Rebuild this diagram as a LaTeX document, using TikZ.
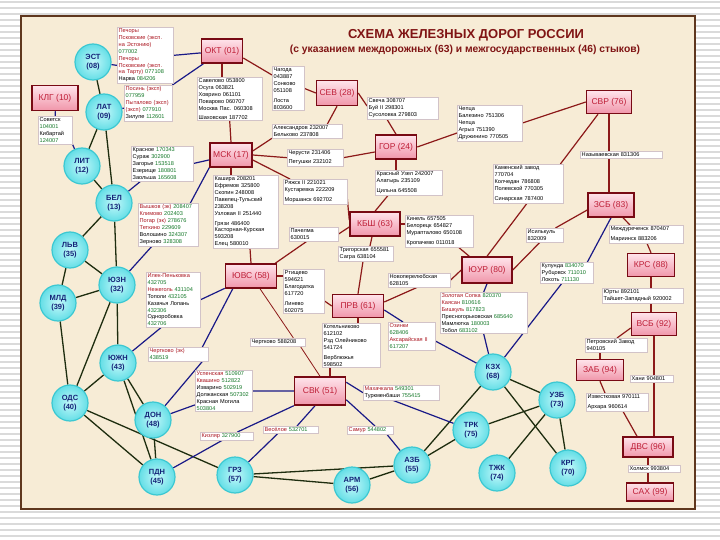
\documentclass[tikz,border=0pt]{standalone}
\usepackage{fontspec}
\setmainfont{Liberation Sans}
\pgfdeclarelayer{bg}
\pgfsetlayers{bg,main}
\definecolor{beige}{RGB}{247,236,214}
\definecolor{framec}{RGB}{95,55,30}
\definecolor{stripe}{RGB}{218,218,218}
\definecolor{titlec}{RGB}{128,20,20}
\definecolor{rboxd}{RGB}{120,10,20}
\definecolor{rboxt}{RGB}{190,30,55}
\definecolor{pinkt}{RGB}{255,228,235}
\definecolor{pinkb}{RGB}{240,150,170}
\definecolor{cyin}{RGB}{195,248,250}
\definecolor{cyout}{RGB}{100,222,230}
\definecolor{cyedge}{RGB}{60,200,210}
\definecolor{navyt}{RGB}{20,35,120}
\definecolor{blink}{RGB}{25,25,135}
\definecolor{rlink}{RGB}{140,25,25}
\definecolor{glink}{RGB}{30,45,15}
\definecolor{lblb}{RGB}{210,195,200}
\definecolor{nmred}{RGB}{170,20,30}
\definecolor{nmgreen}{RGB}{20,120,40}
\newcommand{\rtx}[1]{\textcolor{nmred}{#1}}
\newcommand{\gtx}[1]{\textcolor{nmgreen}{#1}}
\tikzset{
  rbox/.style={draw=rboxd, line width=1.5pt, top color=pinkt, bottom color=pinkb, text=rboxt,
    font=\fontsize{8.5}{10}\selectfont, inner sep=0pt},
  cnode/.style={circle, draw=cyedge, line width=1.2pt, inner color=cyin, outer color=cyout,
    minimum size=36pt, inner sep=0pt, align=center, text=navyt, font=\bfseries\fontsize{7.5}{9}\selectfont},
  lbl/.style={draw=lblb, fill=white, line width=0.4pt, font=\fontsize{5.6}{6.9}\selectfont,
    align=left, inner sep=1.5pt, anchor=north west},
  bl/.style={draw=blink, line width=1.2pt},
  rd/.style={draw=rlink, line width=1.2pt},
  gl/.style={draw=glink, line width=1.3pt}
}
\begin{document}
\begin{tikzpicture}[x=1pt,y=-1pt]
\useasboundingbox (0,0) rectangle (720,540);
\begin{pgfonlayer}{bg}
\fill[white] (0,0) rectangle (720,540);
\foreach \yy in {2,8,...,538} \draw[stripe, line width=2.4pt] (0,\yy) -- (720,\yy);
\fill[beige] (21,16) rectangle (695,509);
\draw[framec, line width=2.5pt] (21,16) rectangle (695,509);
\end{pgfonlayer}

% title
\node[text=titlec, font=\bfseries\fontsize{13}{15}\selectfont] (title) at (466,35) {СХЕМА  ЖЕЛЕЗНЫХ  ДОРОГ  РОССИИ};
\node[text=titlec, font=\bfseries\fontsize{10.3}{12}\selectfont] (subtitle) at (465,50) {(с указанием междорожных (63) и межгосударственных (46) стыков)};

% Russian roads
\node[rbox, minimum width=41pt, minimum height=24pt] (okt) at (222,51) {ОКТ (01)};
\node[rbox, minimum width=41pt, minimum height=25pt] (sev) at (337,93) {СЕВ (28)};
\node[rbox, minimum width=42pt, minimum height=24pt] (msk) at (231,155) {МСК (17)};
\node[rbox, minimum width=41pt, minimum height=24pt] (gor) at (396,147) {ГОР (24)};
\node[rbox, minimum width=45pt, minimum height=23pt] (svr) at (609,102) {СВР (76)};
\node[rbox, minimum width=46pt, minimum height=24pt] (zsb) at (611,205) {ЗСБ (83)};
\node[rbox, minimum width=50pt, minimum height=24pt] (kbsh) at (375,224) {КБШ (63)};
\node[rbox, minimum width=50pt, minimum height=26pt] (yur) at (487,270) {ЮУР (80)};
\node[rbox, minimum width=47pt, minimum height=23pt] (krs) at (651,265) {КРС (88)};
\node[rbox, minimum width=51pt, minimum height=24pt] (yuvs) at (251,276) {ЮВС (58)};
\node[rbox, minimum width=51pt, minimum height=23pt] (prv) at (358,306) {ПРВ (61)};
\node[rbox, minimum width=45pt, minimum height=23pt] (vsb) at (654,324) {ВСБ (92)};
\node[rbox, minimum width=47pt, minimum height=21pt] (zab) at (600,370) {ЗАБ (94)};
\node[rbox, minimum width=51pt, minimum height=28pt] (svk) at (320,391) {СВК (51)};
\node[rbox, minimum width=50pt, minimum height=20pt] (dvs) at (648,447) {ДВС (96)};
\node[rbox, minimum width=47pt, minimum height=18pt] (sakh) at (650,492) {САХ (99)};
\node[rbox, minimum width=46pt, minimum height=25pt] (klg) at (55,98) {КЛГ (10)};

% foreign roads
\node[cnode] (est) at (93,62) {ЭСТ\\(08)};
\node[cnode] (lat) at (104,112) {ЛАТ\\(09)};
\node[cnode] (lit) at (82,166) {ЛИТ\\(12)};
\node[cnode] (bel) at (114,203) {БЕЛ\\(13)};
\node[cnode] (lvv) at (70,250) {ЛЬВ\\(35)};
\node[cnode] (yuzn) at (117,285) {ЮЗН\\(32)};
\node[cnode] (mld) at (58,303) {МЛД\\(39)};
\node[cnode] (yuzh) at (118,363) {ЮЖН\\(43)};
\node[cnode] (ods) at (70,403) {ОДС\\(40)};
\node[cnode] (don) at (153,420) {ДОН\\(48)};
\node[cnode] (pdn) at (157,477) {ПДН\\(45)};
\node[cnode] (grz) at (235,475) {ГРЗ\\(57)};
\node[cnode] (arm) at (352,485) {АРМ\\(56)};
\node[cnode] (azb) at (412,465) {АЗБ\\(55)};
\node[cnode] (trk) at (471,430) {ТРК\\(75)};
\node[cnode] (kzh) at (493,372) {КЗХ\\(68)};
\node[cnode] (uzb) at (557,400) {УЗБ\\(73)};
\node[cnode] (tzhk) at (497,473) {ТЖК\\(74)};
\node[cnode] (krg) at (568,468) {КРГ\\(70)};

% labels
\node[lbl, text width=53pt] (L1) at (117,27) {\rtx{Печоры}\\\rtx{Псковские (эксп.}\\\rtx{на Эстонию)} \gtx{077002}\\\rtx{Печоры}\\\rtx{Псковские (эксп.}\\\rtx{на Тарту)} \gtx{077108}\\Нарва \gtx{084206}};
\node[lbl, text width=45pt] (L2) at (124,85) {\rtx{Посинь (эксп)}\\\gtx{077959}\\\rtx{Пыталово (эксп)}\\\rtx{(эксп)} \gtx{077910}\\Зилупе \gtx{112601}};
\node[lbl, text width=31pt] (L3) at (38,116) {Советск\\\gtx{104001}\\Кибартай\\\gtx{124007}};
\node[lbl, text width=62pt] (L4) at (197,77) {Савелово 053800\\Осуга 063821\\Ховрино 061101\\Поварово 060707\\Москва Пас. 060308\\[2pt]Шаховская 187702};
\node[lbl, text width=29pt] (L5) at (272,66) {Чагода\\043887\\Сонково\\051108\\[3pt]Лоста\\803600};
\node[lbl, text width=68pt] (L6) at (367,97) {Свеча 308707\\Буй II 298301\\Сусоловка 279803};
\node[lbl, text width=67pt] (L7) at (272,124) {Александров 232007\\Бельково 237808};
\node[lbl, text width=53pt] (L8) at (287,149) {Черусти 231406\\[2pt]Петушки 232102};
\node[lbl, text width=62pt] (L9) at (457,105) {Чепца\\Балезино 751306\\Чепца\\Агрыз 751390\\Дружинино 770505};
\node[lbl, text width=79pt] (L10) at (580,151) {Называевская 831306};
\node[lbl, text width=67pt] (L11) at (493,164) {Каменский завод\\770704\\Колчедан 786808\\Полевской 770305\\[3pt]Синарская 787400};
\node[lbl, text width=64pt] (L12) at (375,170) {Красный Узел 242007\\Алатырь 235109\\[3pt]Цильна 645508};
\node[lbl, text width=61pt] (L13) at (283,179) {Ряжск II 221021\\Кустаревка 222209\\[3pt]Моршанск 692702};
\node[lbl, text width=62pt] (L14) at (213,175) {Кашира 208201\\Ефремов 325800\\Скопин 248008\\Павелец-Тульский\\238208\\Узловая II 251440\\[3pt]Грязи 486400\\Касторная-Курская\\593208\\Елец 580010};
\node[lbl, text width=46pt] (L15) at (289,227) {Пачелма\\630015};
\node[lbl, text width=52pt] (L16) at (338,246) {Тригорская 655581\\Сагра 638104};
\node[lbl, text width=65pt] (L17) at (405,215) {Кинель 657505\\Белорецк 654827\\Мурапталово 650108\\[3pt]Кропачево 011018};
\node[lbl, text width=59pt] (L18) at (388,273) {Новоперелюбская\\628105};
\node[lbl, text width=84pt] (L19) at (440,292) {\rtx{Золотая Сопка} \gtx{820370}\\\rtx{Каясан} \gtx{810616}\\\rtx{Бишкуль} \gtx{817823}\\Пресногорьковская \gtx{685640}\\Мамлютка \gtx{180003}\\Тобол \gtx{683102}};
\node[lbl, text width=34pt] (L20) at (526,228) {Исилькуль\\832009};
\node[lbl, text width=50pt] (L21) at (540,262) {Кулунда \gtx{834070}\\Рубцовск \gtx{711010}\\Локоть \gtx{711130}};
\node[lbl, text width=71pt] (L22) at (609,225) {Междуреченск 870407\\[3pt]Мариинск 883206};
\node[lbl, text width=78pt] (L23) at (602,288) {Юрты 892101\\Тайшет-Западный 920002};
\node[lbl, text width=59pt] (L24) at (585,338) {Петровский Завод\\940105};
\node[lbl, text width=40pt] (L25) at (630,375) {Хани 904801};
\node[lbl, text width=59pt] (L26) at (586,393) {Известковая 970111\\[3pt]Архара 960614};
\node[lbl, text width=49pt] (L27) at (628,465) {Холмск 993804};
\node[lbl, text width=57pt] (L28) at (138,203) {\rtx{Вышков (эк)} \gtx{208407}\\\rtx{Климово} \gtx{202403}\\\rtx{Погар (эк)} \gtx{278676}\\\rtx{Теткино} \gtx{229609}\\Волошино \gtx{324307}\\Зерново \gtx{328308}};
\node[lbl, text width=59pt] (L29) at (131,146) {Красное \gtx{170343}\\Сураж \gtx{302900}\\Загорье \gtx{153518}\\Езерище \gtx{180801}\\Заольша \gtx{165608}};
\node[lbl, text width=51pt] (L30) at (146,272) {\rtx{Илек-Пеньковка}\\\gtx{432705}\\\rtx{Нежеголь} \gtx{431104}\\Тополи \gtx{432105}\\Казачья Лопань\\\gtx{432306}\\Одноробовка\\\gtx{432706}};
\node[lbl, text width=57pt] (L31) at (148,347) {\rtx{Чертково (эк)}\\\gtx{438519}};
\node[lbl, text width=54pt] (L32) at (195,370) {\rtx{Успенская} \gtx{510907}\\\rtx{Квашино} \gtx{512822}\\Изварино \gtx{502919}\\Должанская \gtx{507302}\\Красная Могила\\\gtx{503804}};
\node[lbl, text width=50pt] (L33) at (200,432) {\rtx{Кизляр} \gtx{327900}};
\node[lbl, text width=52pt] (L34) at (263,426) {\rtx{Весёлое} \gtx{532701}};
\node[lbl, text width=43pt] (L35) at (347,426) {\rtx{Самур} \gtx{544802}};
\node[lbl, text width=73pt] (L36) at (363,385) {\rtx{Махачкала} \gtx{549301}\\Туркменбаши \gtx{755415}};
\node[lbl, text width=44pt] (L37) at (388,322) {\rtx{Озинки}\\\gtx{628406}\\\rtx{Аксарайская II}\\\gtx{617207}};
\node[lbl, text width=52pt] (L38) at (250,338) {Чертково 588208};
\node[lbl, text width=55pt] (L39) at (322,323) {Котельниково\\612102\\Рзд Олейниково\\541724\\[3pt]Верблюжья\\598502};
\node[lbl, text width=38pt] (L40) at (283,269) {Ртищево\\594621\\Благодатка\\617720\\[3pt]Линево\\602075};

\begin{pgfonlayer}{bg}
% foreign-foreign links
\draw[gl] (est) -- (lat);
\draw[gl] (lat) -- (lit);
\draw[gl] (lat) -- (bel);
\draw[gl] (lit) -- (bel);
\draw[gl] (bel) -- (lvv);
\draw[gl] (bel) -- (yuzn);
\draw[gl] (lvv) -- (yuzn);
\draw[gl] (lvv) -- (mld);
\draw[gl] (mld) -- (yuzn);
\draw[gl] (yuzn) -- (yuzh);
\draw[gl] (yuzn) -- (ods);
\draw[gl] (mld) -- (ods);
\draw[gl] (yuzh) -- (ods);
\draw[gl] (yuzh) -- (don);
\draw[gl] (yuzh) -- (pdn);
\draw[gl] (ods) -- (pdn);
\draw[gl] (ods) -- (grz);
\draw[gl] (don) -- (pdn);
\draw[gl] (grz) -- (azb);
\draw[gl] (grz) -- (arm);
\draw[gl] (arm) -- (azb);
\draw[gl] (azb) -- (trk);
\draw[gl] (azb) -- (kzh);
\draw[gl] (kzh) -- (uzb);
\draw[gl] (kzh) -- (krg);
\draw[gl] (uzb) -- (trk);
\draw[gl] (uzb) -- (tzhk);
\draw[gl] (uzb) -- (krg);

% interstate links (blue)
\draw[bl] (est) -- ([yshift=-10pt]L1.west);
\draw[bl] (L1.east) -- (okt);
\draw[bl] (lat) -- ([yshift=-5pt]L2.west);
\draw[bl] (L2.north east) -- (okt);
\draw[bl] (klg) -- (L3.north);
\draw[bl] (L3.south east) -- (lit);
\draw[bl] (bel) -- ([xshift=10pt]L29.south west);
\draw[bl] (L29.east) -- (msk);
\draw[bl] (yuzn) -- ([xshift=14pt]L28.south west);
\draw[bl] ([xshift=-8pt]L28.north east) -- (msk.south west);
\draw[bl] (yuzh) -- ([xshift=15pt]L30.south west);
\draw[bl] (L30.east) -- (yuvs);
\draw[bl] (don) -- ([xshift=-6pt]L31.south east);
\draw[bl] ([xshift=-6pt]L31.north east) -- ([xshift=8pt]yuvs.south west);
\draw[bl] (don) -- ([yshift=7pt]L32.south west);
\draw[bl] (L32.east) -- (svk.west);
\draw[bl] (pdn) -- ([xshift=22pt]L33.south west);
\draw[bl] ([xshift=-16pt]L33.north east) -- (svk.south west);
\draw[bl] (grz) -- ([xshift=15pt]L34.south west);
\draw[bl] ([xshift=34pt]L34.north west) -- ([xshift=-5pt]svk.south);
\draw[bl] ([yshift=6pt]svk.south east) -- ([xshift=28pt]L35.north west);
\draw[bl] ([xshift=40pt]L35.south west) -- (azb);
\draw[bl] ([yshift=-6pt]svk.north east) -- (L36.west);
\draw[bl] ([xshift=30pt]L36.south west) -- (trk);
\draw[bl] ([yshift=-4pt]prv.east) -- ([xshift=15pt]L37.north west);
\draw[bl] ([yshift=-5pt]L37.east) -- (kzh);
\draw[bl] (yur.south) -- (L19.north);
\draw[bl] (L19.south) -- (kzh);
\draw[bl] (zsb.south) -- ([xshift=-6pt]L21.north east);
\draw[bl] ([xshift=22pt]L21.south west) -- (kzh);

% inter-road links (dark red)
\draw[rd] (okt.south) -- (okt.south |- L4.north);
\draw[rd] (L4.south) -- (msk.north);
\draw[rd] ([yshift=-7pt]okt.east) -- ([yshift=-9pt]L5.north west);
\draw[rd] (L5.east) -- (sev.west);
\draw[rd] (sev.east) -- ([yshift=-9pt]L6.north west);
\draw[rd] ([xshift=20pt]L6.south west) -- (gor.north);
\draw[rd] (sev.south) -- ([xshift=-15pt]L7.north east);
\draw[rd] (L7.south west) -- ([yshift=4pt]msk.east);
\draw[rd] (msk.east) -- (L8.west);
\draw[rd] (L8.east) -- ([yshift=-5pt]gor.west);
\draw[rd] (gor.east) -- ([yshift=-10pt]L9.west);
\draw[rd] (L9.east) -- (svr.west);
\draw[rd] (svr.south) -- (svr.south |- L10.north);
\draw[rd] (svr.south |- L10.south) -- (svr.south |- zsb.north);
\draw[rd] ([xshift=-11pt]svr.south) -- ([xshift=-3pt]L11.north east);
\draw[rd] ([xshift=34pt]L11.south west) -- (yur.north);
\draw[rd] (gor.south) -- (gor.south |- L12.north);
\draw[rd] ([xshift=13pt]L12.south west) -- (kbsh.north);
\draw[rd] ([yshift=-5pt]msk.east) -- ([xshift=7pt]L13.north west);
\draw[rd] ([yshift=5pt]L13.south east) -- ([yshift=4pt]kbsh.west);
\draw[rd] (msk.south) -- (msk.south |- L14.north);
\draw[rd] ([xshift=37pt]L14.south west) -- (yuvs.north);
\draw[rd] ([xshift=-2pt]yuvs.north east) -- ([xshift=18pt]L15.south west);
\draw[rd] (L15.east) -- ([yshift=-3pt]kbsh.west);
\draw[rd] ([xshift=-3pt]kbsh.south) -- ([xshift=32pt]L16.north west);
\draw[rd] ([xshift=25pt]L16.south west) -- (prv.north);
\draw[rd] (kbsh.east) -- ([yshift=-9pt]L17.north west);
\draw[rd] ([xshift=-15pt]L17.south east) -- ([xshift=8pt]yur.north west);
\draw[rd] ([yshift=4pt]prv.east) -- ([xshift=29pt]L18.south west);
\draw[rd] (L18.east) -- (yur.west);
\draw[rd] ([yshift=-5pt]zsb.west) -- ([xshift=-8pt]L20.north east);
\draw[rd] ([xshift=14pt]L20.south west) -- (yur.east);
\draw[rd] ([xshift=12pt]zsb.south) -- ([xshift=21pt]L22.north west);
\draw[rd] ([xshift=38pt]L22.south west) -- (krs.north);
\draw[rd] (krs.south) -- (krs.south |- L23.north);
\draw[rd] (krs.south |- L23.south) -- (krs.south |- vsb.north);
\draw[rd] ([yshift=-4pt]vsb.west) -- ([xshift=32pt]L24.north west);
\draw[rd] ([xshift=15pt]L24.south west) -- (zab.north);
\draw[rd] (vsb.south) -- (vsb.south |- L25.north);
\draw[rd] (vsb.south |- L25.south) -- (vsb.south |- dvs.north);
\draw[rd] (zab.south) -- ([xshift=19pt]L26.north west);
\draw[rd] ([xshift=37pt]L26.south west) -- ([xshift=-11pt]dvs.north);
\draw[rd] (dvs.south) -- (dvs.south |- L27.north);
\draw[rd] (dvs.south |- L27.south) -- (dvs.south |- sakh.north);
\draw[rd] (yuvs.east) -- ([yshift=-7pt]L40.north west);
\draw[rd] ([yshift=-9.5pt]L40.east) -- (prv.west);
\draw[rd] (prv.south) -- (prv.south |- L39.north);
\draw[rd] ([xshift=8pt]L39.south west) -- ([xshift=10pt]svk.north);
\draw[rd, line width=0.8pt] ([xshift=9pt]yuvs.south) -- ([xshift=-12pt]L38.north east);
\draw[rd, line width=0.8pt] ([xshift=-5pt]L38.south east) -- (svk.north);
\end{pgfonlayer}
\end{tikzpicture}
\end{document}
